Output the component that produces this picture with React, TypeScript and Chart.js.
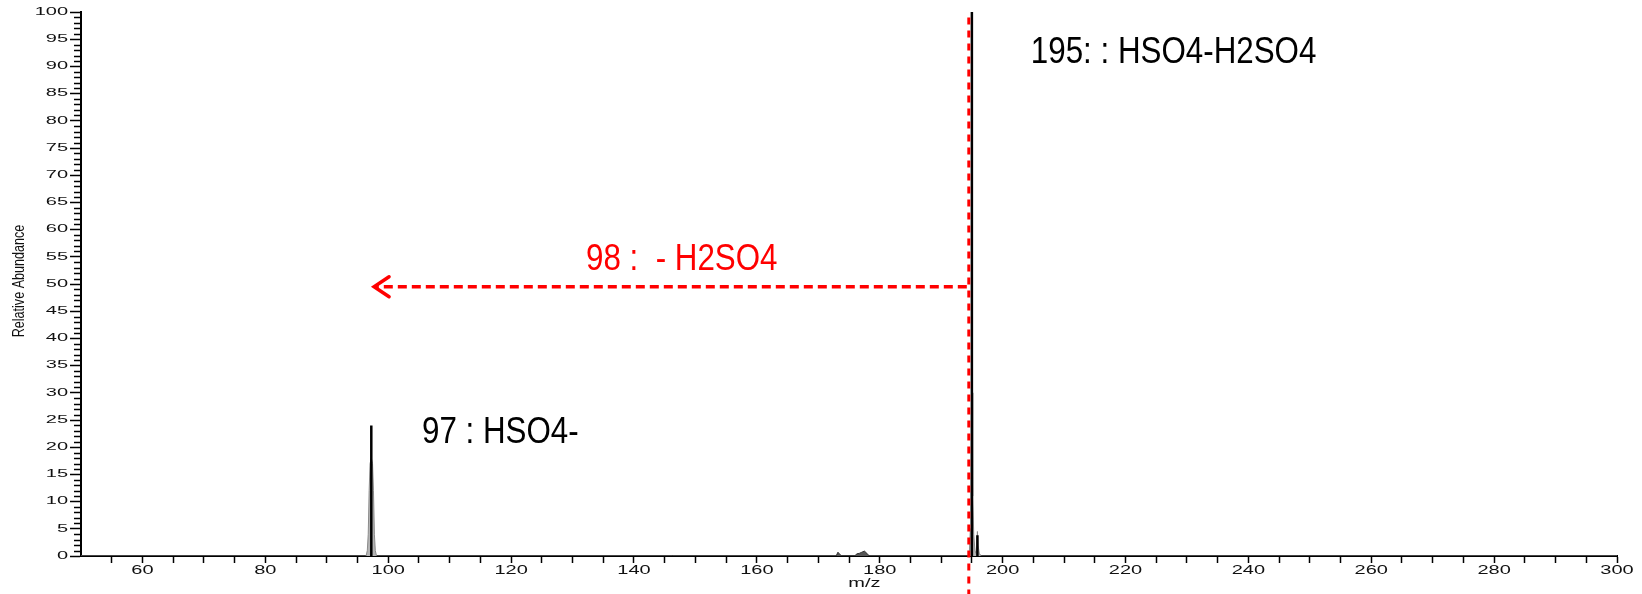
import React, { useEffect, useRef } from 'react';
import { Chart, registerables } from 'chart.js';

Chart.register(...registerables);

// ---------- data ----------
// grey profile trace (m/z, relative abundance %)
const profileMz = [50, 96.4, 96.6, 96.75, 96.9, 97.05, 97.25, 97.45, 97.6, 97.75, 97.9, 98.1,
  194.4, 194.6, 194.75, 194.85, 194.95, 195.0, 195.05, 195.15, 195.3, 195.5, 195.65, 195.8, 195.9, 196.0, 196.2, 196.5, 300];
const profileAbund = [0, 0, 1, 4, 12, 17, 18, 17, 12, 4, 1, 0,
  0, 1, 5, 11, 30, 100, 30, 11, 4, 1, 0.5, 2, 4.5, 2, 0.5, 0, 0];

// small black noise bumps
const noiseMz = [172.9, 173.2, 173.5, 173.8, 175.9, 176.3, 176.7, 177.1, 177.5, 177.9, 178.3];
const noiseAbund = [0, 0.7, 0.3, 0, 0, 0.4, 0.5, 0.7, 0.9, 0.5, 0];

// centroid sticks
const stickMz = [97.25, 195.0, 195.9];
const stickAbund = [24, 100, 3.8];

// axes
const xMin = 50;
const xMax = 300;
const xStep = 5;
const xLabelEvery = 20;
const yMin = 0;
const yMax = 100;
const yStep = 5;
const xTitle = 'm/z';
const yTitle = 'Relative Abundance';

// annotations
const annotationTexts = ['195: : HSO4-H2SO4', '97 : HSO4-', '98 :  - H2SO4'];
const annotationMz = [204.6, 105.5, 132.2];
const annotationAbund = [90.6, 20.8, 52.6];
const annotationColors = ['#000000', '#000000', '#ff0000'];

// neutral loss arrow (98 : - H2SO4)
const lossFromMz = 194.5;
const lossToMz = 97.7;
const lossAbund = 49.5;

const FONT = '"Liberation Sans", Arial, sans-serif';

const fmtX = (v: number) => (v % xLabelEvery === 0 && v > xMin ? String(v) : '');
const fmtY = (v: number) => String(v);

function stretchedText(
  ctx: CanvasRenderingContext2D,
  text: string,
  x: number,
  y: number,
  size: number,
  sx: number,
  color: string,
  align: CanvasTextAlign,
  baseline: CanvasTextBaseline,
  rotate = 0
) {
  ctx.save();
  ctx.translate(x, y);
  if (rotate) ctx.rotate(rotate);
  ctx.scale(sx, 1);
  ctx.font = `normal ${size}px ${FONT}`;
  ctx.fillStyle = color;
  ctx.textAlign = align;
  ctx.textBaseline = baseline;
  ctx.fillText(text, 0, 0);
  ctx.restore();
}

const overlayPlugin = {
  id: 'overlay',
  afterDraw(chart: any) {
    const ctx: CanvasRenderingContext2D = chart.ctx;
    const xs = chart.scales.x;
    const ys = chart.scales.y;
    const area = chart.chartArea;

    ctx.save();
    // minor y ticks (every 1 %)
    ctx.strokeStyle = '#000';
    ctx.lineWidth = 1.5;
    for (let v = yMin; v <= yMax; v++) {
      if (v % yStep === 0) continue;
      const py = Math.round(ys.getPixelForValue(v)) + 0.5;
      ctx.beginPath();
      ctx.moveTo(area.left - 7, py);
      ctx.lineTo(area.left, py);
      ctx.stroke();
    }

    // y tick labels
    for (const t of ys.ticks) {
      const py = ys.getPixelForValue(t.value);
      stretchedText(ctx, fmtY(t.value), area.left - 13, py, 10, 2.0, '#111', 'right', 'middle');
    }
    // x tick labels
    for (const t of xs.ticks) {
      const lbl = fmtX(t.value);
      if (!lbl) continue;
      const px = xs.getPixelForValue(t.value);
      stretchedText(ctx, lbl, px, area.bottom + 15, 12.5, 1.6, '#111', 'center', 'middle');
    }
    // axis titles
    stretchedText(ctx, xTitle, xs.getPixelForValue(177.5), area.bottom + 28, 12.5, 1.6, '#111', 'center', 'middle');
    stretchedText(ctx, yTitle, 19, (area.top + area.bottom) / 2 - 3, 17, 0.74, '#111', 'center', 'middle', -Math.PI / 2);

    // red vertical dashed line
    const vx = xs.getPixelForValue(lossFromMz);
    ctx.strokeStyle = '#ff0000';
    ctx.lineWidth = 3;
    ctx.setLineDash([7, 6]);
    ctx.beginPath();
    ctx.moveTo(vx, ys.getPixelForValue(99));
    ctx.lineTo(vx, chart.height);
    ctx.stroke();

    // horizontal dashed arrow
    const ay = ys.getPixelForValue(lossAbund);
    const tipX = xs.getPixelForValue(lossToMz);
    ctx.lineWidth = 3.5;
    ctx.setLineDash([9, 5]);
    ctx.beginPath();
    ctx.moveTo(vx - 2, ay);
    ctx.lineTo(tipX + 3, ay);
    ctx.stroke();
    ctx.setLineDash([]);
    ctx.lineCap = 'round';
    ctx.beginPath();
    ctx.moveTo(tipX + 15, ay - 10);
    ctx.lineTo(tipX, ay);
    ctx.lineTo(tipX + 15, ay + 10);
    ctx.stroke();

    // annotation texts
    for (let i = 0; i < annotationTexts.length; i++) {
      stretchedText(
        ctx,
        annotationTexts[i],
        xs.getPixelForValue(annotationMz[i]),
        ys.getPixelForValue(annotationAbund[i]),
        36,
        0.87,
        annotationColors[i],
        'left',
        'alphabetic'
      );
    }
    ctx.restore();
  },
};

export default function App() {
  const canvasRef = useRef<HTMLCanvasElement | null>(null);

  useEffect(() => {
    const canvas = canvasRef.current;
    if (!canvas) return;

    const stickData: { x: number; y: number | null }[] = [];
    stickMz.forEach((m, i) => {
      stickData.push({ x: m, y: 0 });
      stickData.push({ x: m, y: stickAbund[i] });
      stickData.push({ x: m, y: null });
    });

    const chart = new Chart(canvas, {
      type: 'line',
      data: {
        datasets: [
          {
            label: 'centroid',
            data: stickData as any,
            borderColor: '#000000',
            borderWidth: 2.5,
            fill: false,
            spanGaps: false,
            pointRadius: 0,
            order: 0,
          },
          {
            label: 'noise',
            data: noiseMz.map((m, i) => ({ x: m, y: noiseAbund[i] })),
            borderColor: '#333333',
            backgroundColor: '#555555',
            borderWidth: 1,
            fill: 'origin',
            pointRadius: 0,
            order: 1,
          },
          {
            label: 'profile',
            data: profileMz.map((m, i) => ({ x: m, y: profileAbund[i] })),
            borderColor: '#8a8a8a',
            backgroundColor: '#b4b4b4',
            borderWidth: 1,
            fill: 'origin',
            pointRadius: 0,
            order: 2,
          },
        ],
      },
      options: {
        animation: false,
        responsive: false,
        maintainAspectRatio: false,
        layout: { padding: { top: 12, right: 25, bottom: 0, left: 0 } },
        plugins: { legend: { display: false }, tooltip: { enabled: false } },
        elements: { point: { radius: 0 }, line: { tension: 0 } },
        scales: {
          x: {
            type: 'linear',
            min: xMin,
            max: xMax,
            offset: false,
            ticks: { display: false, stepSize: xStep, autoSkip: false, callback: (v: any) => fmtX(Number(v)) },
            grid: {
              display: true,
              drawOnChartArea: false,
              drawTicks: true,
              tickLength: 7,
              tickWidth: 1.5,
              tickColor: (c: any) => (c.tick && c.tick.value === xMin ? 'rgba(0,0,0,0)' : '#000'),
            },
            border: { display: true, color: '#000', width: 2 },
            title: { display: false },
            afterFit: (s: any) => {
              s.height = 38;
            },
          },
          y: {
            type: 'linear',
            min: yMin,
            max: yMax,
            ticks: { display: false, stepSize: yStep, callback: (v: any) => fmtY(Number(v)) },
            grid: {
              display: true,
              drawOnChartArea: false,
              drawTicks: true,
              tickLength: 11,
              tickWidth: 1.5,
              tickColor: '#000',
            },
            border: { display: true, color: '#000', width: 2 },
            title: { display: false },
            afterFit: (s: any) => {
              s.width = 81;
            },
          },
        },
      } as any,
      plugins: [overlayPlugin],
    });

    return () => chart.destroy();
  }, []);

  return (
    <div style={{ position: 'absolute', left: 0, top: 0, width: 1642, height: 594, background: '#fff' }}>
      <canvas ref={canvasRef} width={1642} height={594} style={{ display: 'block', width: 1642, height: 594 }} />
    </div>
  );
}
